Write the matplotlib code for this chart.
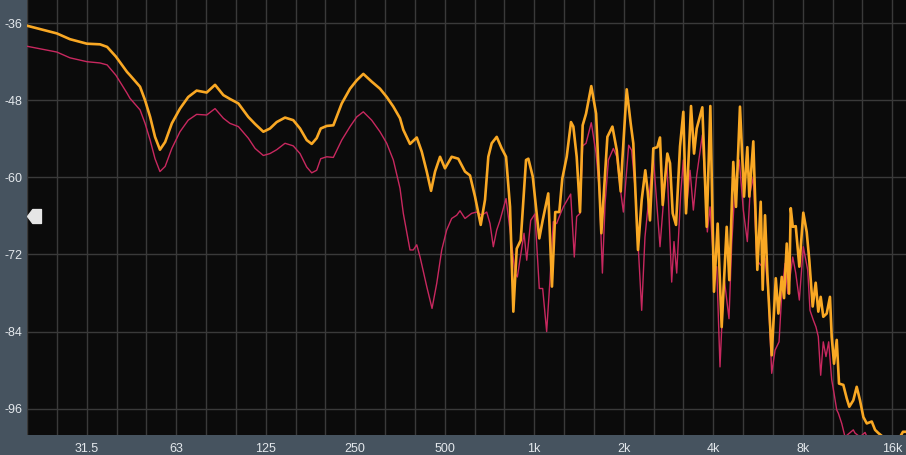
import numpy as np
import matplotlib
matplotlib.use("Agg")
import matplotlib.pyplot as plt

# spectrum readings (Hz, dB) for the two traces
orange_freq = [20, 25.2, 27.9, 31.8, 35.2, 37.2, 39.8, 43.4, 44.4, 48.0,
               49.9, 51.9, 53.9, 56.0, 58.3, 61.4, 65.4, 69.7, 74.4, 80.4,
               85.8, 91.5, 96.3, 102.8, 111.0, 117.0, 124.7, 131.3, 138.3, 147.5,
               157.2, 165.7, 174.5, 181.4, 188.5, 194.5, 203.8, 214.5, 228.9, 244.1,
               257.0, 270.5, 288.6, 307.7, 324.3, 341.3, 359.4, 368.7, 388.3, 409.2,
               425.3, 442.1, 457.1, 471.5, 490.1, 509.2, 536.3, 564.4, 594.5, 617.9,
               642.5, 671.5, 694.2, 712.2, 731.1, 760.1, 789.9, 817.0, 842.7, 864.5,
               887.5, 915.5, 953.8, 971.0, 1005, 1057, 1085, 1133, 1166, 1196,
               1234, 1263, 1307, 1351, 1376, 1412, 1449, 1479, 1518, 1581,
               1641, 1709, 1791, 1862, 1926, 1986, 2011, 2080, 2145, 2189,
               2270, 2336, 2402, 2447, 2491, 2556, 2637, 2692, 2749, 2849,
               2909, 2970, 3047, 3143, 3225, 3293, 3423, 3504, 3577, 3736,
               3865, 3975, 4089, 4208, 4340, 4512, 4604, 4748, 4849, 5001,
               5160, 5294, 5376, 5545, 5720, 5872, 5963, 6071, 6180, 6394,
               6598, 6732, 6912, 7035, 7184, 7313, 7410, 7526, 7702, 7919,
               8166, 8384, 8554, 8782, 8989, 9172, 9343, 9533, 9788, 10040,
               10174, 10360, 10579, 10768, 11133, 11431, 11662, 12029, 12350, 12667,
               13003, 13350, 13876, 14235, 14604, 15144, 17266, 17672, 18089]
orange_db = [-36.4, -37.6, -38.5, -39.2, -39.3, -39.7, -41.2, -43.6, -44.1, -45.9,
             -48.0, -50.6, -53.7, -55.7, -54.5, -51.6, -49.3, -47.5, -46.5, -46.8,
             -45.6, -47.2, -47.8, -48.5, -50.6, -51.7, -52.9, -52.4, -51.4, -50.7,
             -51.1, -52.4, -54.2, -54.8, -53.9, -52.4, -52.0, -51.9, -48.5, -46.2,
             -44.9, -43.9, -45.1, -46.2, -47.5, -49.0, -50.8, -52.6, -54.8, -53.8,
             -56.0, -59.1, -62.1, -59.1, -56.8, -58.6, -56.8, -57.1, -59.1, -59.7,
             -63.0, -67.4, -63.5, -56.8, -54.7, -53.7, -55.5, -56.8, -64.6, -80.9,
             -71.1, -69.8, -57.3, -57.1, -59.9, -69.5, -66.7, -62.5, -77.0, -65.4,
             -65.4, -60.2, -56.8, -51.4, -52.1, -56.8, -65.4, -51.9, -50.1, -45.8,
             -50.1, -68.7, -53.7, -52.1, -55.8, -62.2, -57.3, -46.3, -51.6, -54.7,
             -71.3, -63.5, -58.9, -62.2, -66.7, -55.5, -55.3, -53.8, -64.3, -56.3,
             -57.8, -65.6, -67.4, -55.2, -49.8, -65.6, -48.9, -56.3, -52.4, -49.1,
             -67.7, -48.9, -77.8, -67.2, -83.3, -67.7, -76.0, -57.6, -64.6, -49.0,
             -63.0, -55.3, -63.0, -54.4, -74.4, -63.8, -77.5, -65.9, -74.9, -87.7,
             -75.7, -81.2, -75.5, -78.8, -70.3, -78.1, -64.8, -67.7, -67.6, -73.9,
             -65.5, -68.5, -72.9, -80.1, -76.4, -80.9, -78.6, -81.7, -81.2, -78.6,
             -84.8, -89.0, -85.3, -92.1, -92.3, -94.4, -95.7, -94.7, -92.6, -94.7,
             -97.3, -98.3, -98.0, -99.3, -99.8, -100.4, -100.4, -99.6, -99.6]

pink_freq = [20, 25.2, 27.9, 31.8, 35.2, 37.2, 39.8, 43.4, 44.4, 48.0,
             49.9, 51.9, 53.9, 56.0, 58.3, 61.4, 65.4, 69.7, 74.4, 80.4,
             85.8, 91.5, 96.3, 102.8, 111.0, 117.0, 124.7, 131.3, 138.3, 147.5,
             157.2, 165.7, 174.5, 181.4, 188.5, 194.5, 203.8, 214.5, 228.9, 244.1,
             257.0, 270.5, 288.6, 307.7, 324.3, 341.3, 359.4, 368.7, 388.3, 398.4,
             409.2, 419.8, 442.1, 460.6, 477.7, 496.5, 515.9, 536.3, 557.5, 571.9,
             594.5, 626.1, 651.0, 676.7, 703.4, 721.7, 740.3, 760.1, 779.6, 817.0,
             842.7, 876.0, 891.7, 939.1, 959.0, 989.1, 1022, 1057, 1085, 1119,
             1148, 1178, 1209, 1234, 1273, 1348, 1386, 1412, 1449, 1479,
             1518, 1581, 1641, 1683, 1723, 1759, 1805, 1876, 1926, 1976,
             2027, 2112, 2162, 2218, 2275, 2336, 2396, 2458, 2556, 2692,
             2762, 2835, 2947, 3000, 3064, 3160, 3225, 3293, 3397, 3485,
             3577, 3736, 3884, 3965, 4099, 4176, 4284, 4418, 4593, 4690,
             4811, 4974, 5132, 5294, 5405, 5545, 5693, 5885, 6071, 6227,
             6394, 6562, 6768, 6912, 7090, 7240, 7526, 7702, 7919, 8166,
             8449, 8601, 8823, 9010, 9172, 9343, 9533, 9734, 9940, 10174,
             10360, 10579, 10710, 10996, 11280, 12029, 12189, 12667, 13174, 13381,
             18089]
pink_db = [-39.6, -40.5, -41.4, -42.0, -42.2, -42.5, -44.1, -46.9, -47.7, -49.5,
           -51.6, -54.2, -57.1, -59.1, -58.3, -55.5, -52.9, -51.1, -50.2, -50.3,
           -49.3, -50.8, -51.6, -52.1, -53.9, -55.5, -56.6, -56.3, -55.7, -54.7,
           -55.1, -56.3, -58.4, -59.3, -58.9, -57.1, -56.8, -56.9, -54.2, -52.1,
           -50.6, -49.8, -51.1, -52.9, -54.7, -57.3, -61.7, -65.6, -71.3, -71.3,
           -70.5, -72.4, -77.0, -80.4, -76.5, -71.3, -68.2, -66.4, -65.9, -65.2,
           -66.4, -65.6, -65.4, -65.9, -65.4, -67.2, -70.8, -68.2, -66.7, -63.3,
           -68.2, -74.9, -75.5, -68.7, -72.9, -66.7, -65.7, -77.3, -77.3, -84.0,
           -76.0, -66.9, -67.2, -66.1, -64.6, -62.6, -72.4, -66.1, -65.6, -55.1,
           -54.7, -51.5, -56.3, -62.0, -74.9, -64.1, -57.3, -55.5, -56.8, -61.5,
           -65.4, -55.0, -55.8, -61.5, -70.8, -80.7, -69.3, -64.1, -56.8, -70.8,
           -64.1, -56.8, -76.3, -70.0, -74.9, -62.5, -57.3, -65.6, -58.9, -65.1,
           -59.7, -53.4, -68.5, -64.6, -74.9, -73.9, -89.5, -75.5, -82.0, -70.5,
           -61.5, -57.3, -65.1, -70.0, -62.5, -59.9, -72.9, -73.7, -72.6, -78.1,
           -90.5, -86.9, -85.6, -78.1, -73.4, -78.1, -72.4, -74.9, -79.1, -70.8,
           -74.4, -80.7, -82.2, -83.3, -84.8, -90.8, -85.6, -87.9, -85.6, -91.5,
           -93.6, -96.2, -96.7, -98.3, -100.4, -99.3, -99.8, -100.4, -99.7, -100.4,
           -100.4]

tick_labels = ['31.5', '63', '125', '250', '500', '1k', '2k', '4k', '8k', '16k']
db_ticks = [-36, -48, -60, -72, -84, -96]
threshold_db = -66

panel = '#46535f'
bg = '#0b0b0b'
gridc = '#3a3a3a'
textc = '#e4e8ec'

plt.rcParams['font.family'] = ['Liberation Sans', 'DejaVu Sans']

fig = plt.figure(figsize=(9.06, 4.55), dpi=100, facecolor=panel)
ax = fig.add_axes([27 / 906, 20 / 455, 879 / 906, 435 / 455])
ax.set_facecolor(bg)

ax.plot(pink_freq, pink_db, color='#c8285f', lw=1.0, zorder=3)
ax.plot(orange_freq, orange_db, color='#f9a824', lw=1.9, zorder=4,
        solid_joinstyle='round')

ax.set_xscale('log')
ax.set_xlim(20, 18090)
ax.set_ylim(-100.1, -32.4)

# third-octave grid, labels every octave
third_oct = 20 * 2 ** (np.arange(30) / 3)
ax.set_xticks(third_oct[2::3])
ax.set_xticklabels(tick_labels)
ax.set_xticks(third_oct, minor=True)
ax.xaxis.set_minor_formatter(plt.NullFormatter())
ax.set_yticks(db_ticks)
ax.set_yticklabels([str(v) for v in db_ticks])

ax.grid(True, which='both', axis='x', color=gridc, lw=1.0, zorder=1)
ax.grid(True, which='major', axis='y', color=gridc, lw=1.0, zorder=1)
ax.tick_params(axis='both', which='both', length=0, labelsize=9,
               labelcolor=textc)
ax.tick_params(axis='x', pad=5.5)
ax.tick_params(axis='y', pad=3.5)
for s in ax.spines.values():
    s.set_visible(False)

# level marker on the left edge
marker = [(-1, 0), (-0.25, 1), (1, 1), (1, -1), (-0.25, -1), (-1, 0)]
trans = matplotlib.transforms.blended_transform_factory(ax.transAxes, ax.transData)
ax.plot([0.0085], [threshold_db], marker=marker, markersize=10,
        color='#e6e6e6', mec='#e6e6e6', transform=trans, clip_on=False, zorder=5)

fig.savefig('out.png', dpi=100, facecolor=panel)
